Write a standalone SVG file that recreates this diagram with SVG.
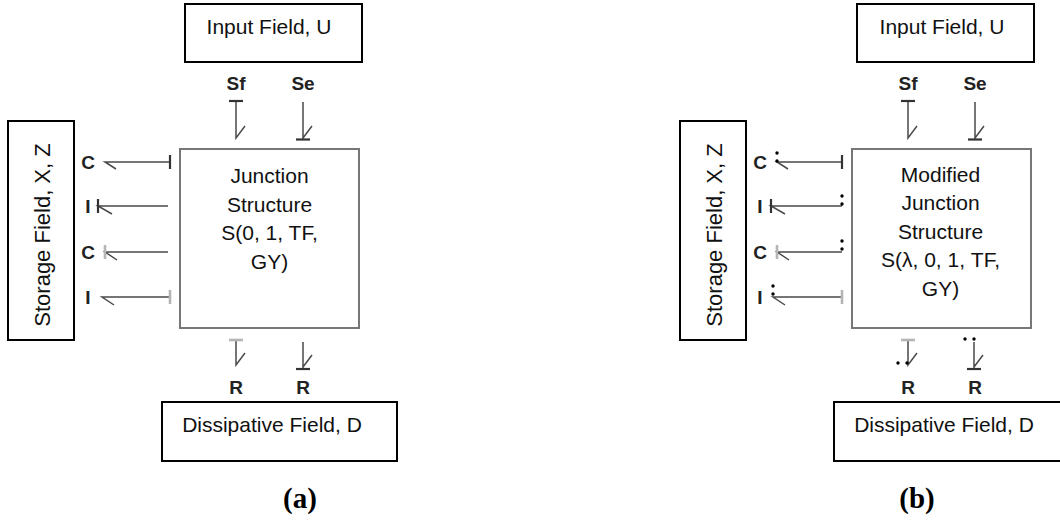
<svg xmlns="http://www.w3.org/2000/svg" xmlns:xlink="http://www.w3.org/1999/xlink" width="1060" height="522" viewBox="0 0 1060 522">
<style>
.box{fill:#fff;stroke:#000;stroke-width:2}
.jbox{fill:#fff;stroke:#777;stroke-width:2}
.txt{font-family:"Liberation Sans",Arial,sans-serif;font-size:21px;fill:#111;text-anchor:middle}
.lbl{font-family:"Liberation Sans",Arial,sans-serif;font-size:19px;font-weight:bold;fill:#222;text-anchor:middle}
.cap{font-family:"Liberation Serif","Times New Roman",serif;font-size:29px;font-weight:bold;fill:#000;text-anchor:middle}
.bond{fill:none;stroke:#4a4a4a;stroke-width:1.5}
.bar{fill:none;stroke:#333;stroke-width:2.2}
.lbar{fill:none;stroke:#b5b5b5;stroke-width:2.6}
.dot{fill:#000}
</style>
<rect width="1060" height="522" fill="#fff"/>

<!-- Panel (a) -->
<g id="panel-a">
  <g id="input-a"><rect class="box" x="185" y="4" width="177" height="58"/><text class="txt" x="269" y="34">Input Field, U</text></g>
  <g id="storage-a"><rect class="box" x="8" y="121" width="66" height="219"/><text class="txt" style="font-size:22px" x="50" y="235" transform="rotate(-90 50 235)">Storage Field, X, Z</text></g>
  <g id="junction-a"><rect class="jbox" x="180" y="149" width="179" height="179"/>
    <text class="txt" x="269.5" y="183">Junction</text>
    <text class="txt" x="269.5" y="211.5">Structure</text>
    <text class="txt" x="269.5" y="240">S(0, 1, TF,</text>
    <text class="txt" x="269.5" y="268.5">GY)</text>
  </g>
  <g id="dissipative-a"><rect class="box" x="162" y="402" width="235" height="59"/><text class="txt" x="272" y="432">Dissipative Field, D</text></g>
  <g id="labels-a">
    <text class="lbl" x="236" y="90">Sf</text>
    <text class="lbl" x="303" y="90">Se</text>
    <text class="lbl" x="88" y="168.5">C</text>
    <text class="lbl" x="88" y="212.5">I</text>
    <text class="lbl" x="88" y="258.5">C</text>
    <text class="lbl" x="88" y="303.5">I</text>
    <text class="lbl" x="236" y="394">R</text>
    <text class="lbl" x="303" y="394">R</text>
  </g>
  <g id="connectors-a">
    <path class="bond" d="M170,162 H105 l11,7"/><path class="bar" d="M170,155 V169"/>
    <path class="bond" d="M168,206 H98 l14,8"/><path class="bar" d="M98,199 V213"/>
    <path class="bond" d="M168,252 H105 l12,8"/><path class="lbar" d="M105,245 V259"/>
    <path class="bond" d="M170,297 H102 l12,8"/><path class="lbar" d="M170,290 V304"/>
    <path class="bond" d="M236,101 V138 l9,-12"/><path class="bar" d="M229,101 H243"/>
    <path class="bond" d="M303,102 V139 M303,138 l9,-12"/><path class="bar" d="M296,139.5 H310"/>
    <path class="bond" d="M236,340 V365 l9,-12"/><path class="lbar" d="M229,340 H243"/>
    <path class="bond" d="M303,342 V368 M303,367 l9,-12"/><path class="bar" d="M296,369 H310"/>
  </g>
  <text class="cap" x="300" y="508">(a)</text>
</g>

<!-- Panel (b) -->
<g id="panel-b" transform="translate(672,0)">
  <g id="input-b"><rect class="box" x="185" y="4" width="177" height="58"/><text class="txt" x="270" y="34">Input Field, U</text></g>
  <g id="storage-b"><rect class="box" x="8" y="121" width="66" height="219"/><text class="txt" style="font-size:22px" x="50" y="235" transform="rotate(-90 50 235)">Storage Field, X, Z</text></g>
  <g id="junction-b"><rect class="jbox" x="180" y="149" width="179" height="179"/>
    <text class="txt" x="268.5" y="182">Modified</text>
    <text class="txt" x="268.5" y="210">Junction</text>
    <text class="txt" x="268.5" y="238.5">Structure</text>
    <text class="txt" x="268.5" y="267">S(λ, 0, 1, TF,</text>
    <text class="txt" x="268.5" y="295.5">GY)</text>
  </g>
  <g id="dissipative-b"><rect class="box" x="162" y="402" width="235" height="59"/><text class="txt" x="272" y="432">Dissipative Field, D</text></g>
  <g id="labels-b">
    <text class="lbl" x="236" y="90">Sf</text>
    <text class="lbl" x="303" y="90">Se</text>
    <text class="lbl" x="88" y="168.5">C</text>
    <text class="lbl" x="88" y="212.5">I</text>
    <text class="lbl" x="88" y="258.5">C</text>
    <text class="lbl" x="88" y="303.5">I</text>
    <text class="lbl" x="236" y="394">R</text>
    <text class="lbl" x="303" y="394">R</text>
  </g>
  <g id="connectors-b">
    <path class="bond" d="M170,162 H105 l11,7"/><path class="bar" d="M170,155 V169"/>
    <path class="bond" d="M170,206 H99 l14,8"/><path class="bar" d="M99,199 V213"/>
    <path class="bond" d="M170,252 H105 l12,8"/><path class="lbar" d="M105,245 V259"/>
    <path class="bond" d="M170,297 H101 l12,8"/><path class="lbar" d="M170,290 V304"/>
    <path class="bond" d="M236,101 V138 l9,-12"/><path class="bar" d="M229,101 H243"/>
    <path class="bond" d="M303,102 V139 M303,138 l9,-12"/><path class="bar" d="M296,139.5 H310"/>
    <path class="bond" d="M236,340 V365 l9,-12"/><path class="lbar" d="M229,340 H243"/>
    <path class="bond" d="M302,342 V368 M302,367 l9,-12"/><path class="bar" d="M295,369 H309"/>
    <g id="dots-b">
      <circle class="dot" cx="105" cy="153" r="1.7"/><circle class="dot" cx="105" cy="161" r="1.7"/>
      <circle class="dot" cx="170" cy="196" r="1.7"/><circle class="dot" cx="170" cy="204" r="1.7"/>
      <circle class="dot" cx="170" cy="241" r="1.7"/><circle class="dot" cx="170" cy="249" r="1.7"/>
      <circle class="dot" cx="101" cy="286" r="1.7"/><circle class="dot" cx="101" cy="294" r="1.7"/>
      <circle class="dot" cx="226" cy="363" r="1.7"/><circle class="dot" cx="235" cy="363" r="1.7"/>
      <circle class="dot" cx="293" cy="339" r="1.7"/><circle class="dot" cx="302" cy="339" r="1.7"/>
    </g>
  </g>
  <text class="cap" x="245" y="508">(b)</text>
</g>
</svg>
